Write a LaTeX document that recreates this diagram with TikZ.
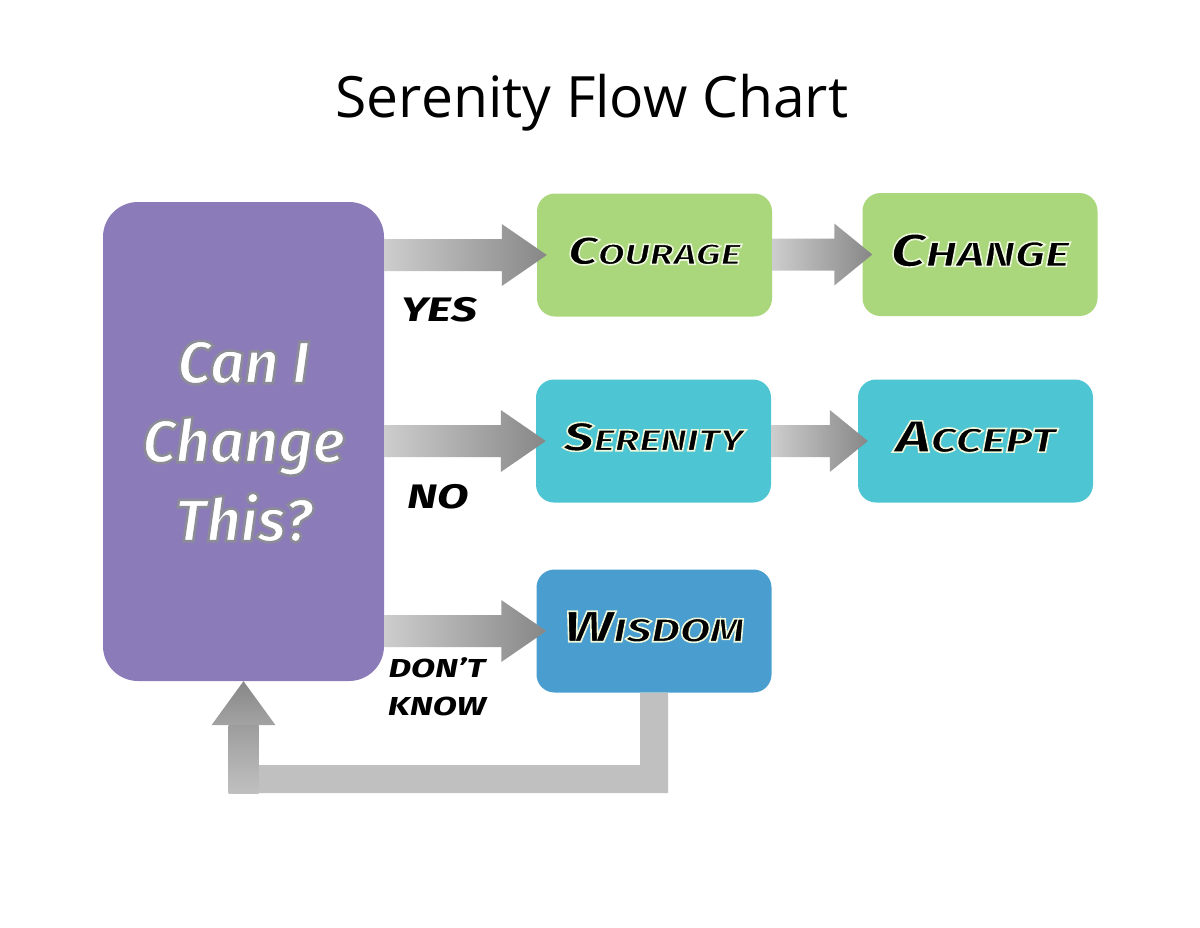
\documentclass[tikz,border=0pt]{standalone}
\usepackage{fontspec}
\setmainfont{Open Sans}
\newfontfamily\hand{Fira Sans}
\newfontfamily\handw{Fira Sans}[FakeStretch=1.35]
\usetikzlibrary{calc}
\definecolor{cpurple}{RGB}{139,123,184}
\definecolor{cgreen}{RGB}{170,215,124}
\definecolor{ccyan}{RGB}{78,197,211}
\definecolor{cblue}{RGB}{74,158,207}
\definecolor{arrowL}{RGB}{205,205,205}
\definecolor{arrowR}{RGB}{135,135,135}
\definecolor{fbgray}{RGB}{192,192,192}
% text with an outline (pdf text render mode 2: fill, then stroke)
\newcommand\glow[3]{\special{pdf:code 2 Tr #1 RG #2 w}#3\special{pdf:code 0 Tr 1 w}}
\newcommand\fsc[4]{{\fontsize{#1}{#1}\selectfont #2}{\fontsize{#3}{#3}\selectfont #4}}
\newcommand\boxtext[4]{\raisebox{9pt}{\glow{0.93 0.97 0.86}{1.6}{\fsc{#1}{#2}{#3}{#4}}}}
\newcommand\blockarrow[5]{%
  \coordinate (T) at ($(#2.west)+(10,0)$);
  \coordinate (S) at (#1.east |- T);
  \shade[left color=arrowL, right color=arrowR]
    ($(S)+(0,-#3)$) -- ($(T)+(-#5,-#3)$) -- ($(T)+(-#5,-#4)$) -- (T)
    -- ($(T)+(-#5,#4)$) -- ($(T)+(-#5,#3)$) -- ($(S)+(0,#3)$) -- cycle;}
\begin{document}
\begin{tikzpicture}[x=1pt,y=-1pt,
  box/.style={rounded corners=18pt, minimum width=235pt, minimum height=123pt, inner sep=0pt, font=\handw\bfseries\itshape},
  lab/.style={font=\handw\bfseries\itshape, inner sep=0pt, align=center}]
\useasboundingbox[fill=white] (0,0) rectangle (1200,927);
\node[font=\fontsize{57}{60}\selectfont, inner sep=0pt] (title) at (592,103) {Serenity Flow Chart};
\node[box, fill=cpurple, minimum width=281pt, minimum height=479pt, rounded corners=35pt, align=center,
      font=\hand\bfseries\itshape\fontsize{60}{79}\selectfont, text=white] (can) at (243.5,441.5)
  {\glow{0.55 0.55 0.6}{2.6}{Can I}\\\glow{0.55 0.55 0.6}{2.6}{Change}\\\glow{0.55 0.55 0.6}{2.6}{This?}};
\node[box, fill=cgreen] (courage) at (654.5,255) {\boxtext{39}{C}{29}{OURAGE}};
\node[box, fill=cgreen] (change) at (980,254.5) {\boxtext{46}{C}{35}{HANGE}};
\node[box, fill=ccyan] (serenity) at (653.5,441) {\boxtext{40}{S}{30}{ERENITY}};
\node[box, fill=ccyan] (accept) at (975.5,441) {\boxtext{45}{A}{34}{CCEPT}};
\node[box, fill=cblue] (wisdom) at (654,631) {\boxtext{44}{W}{33}{ISDOM}};
\blockarrow{can}{courage}{16}{31}{45}
\blockarrow{can}{serenity}{16}{31}{45}
\blockarrow{can}{wisdom}{16}{31}{45}
\blockarrow{courage}{change}{16}{31}{38}
\blockarrow{serenity}{accept}{16}{31}{38}
% feedback arrow
\coordinate (A) at ($(wisdom.south)+(-14,0)$);
\coordinate (B) at ($(wisdom.south)+(14,0)$);
\coordinate (D) at ($(can.south)+(-15,112)$);
\coordinate (E) at ($(can.south)+(-15,44)$);
\coordinate (F) at ($(can.south)+(15,44)$);
\coordinate (G) at ($(can.south)+(15,84)$);
\fill[fbgray] (A) -- (B) -- (B |- D) -- (D) -- (G |- D) -- (G) -- (A |- G) -- cycle;
\shade[top color=fbgray!82!black, bottom color=fbgray] (E) -- (F) -- (G |- D) -- (D) -- cycle;
\shade[top color=arrowR, bottom color=fbgray!85!black] ($(can.south)+(-32,44)$) -- (can.south) -- ($(can.south)+(32,44)$) -- cycle;
\node[lab, font=\handw\bfseries\itshape\fontsize{34}{34}\selectfont] (yes) at (439,310) {YES};
\node[lab, font=\handw\bfseries\itshape\fontsize{34}{34}\selectfont] (no) at (438,497) {NO};
\node[lab, font=\handw\bfseries\itshape\fontsize{26}{38}\selectfont] (dk) at (437,687) {DON’T\\KNOW};
\end{tikzpicture}
\end{document}
